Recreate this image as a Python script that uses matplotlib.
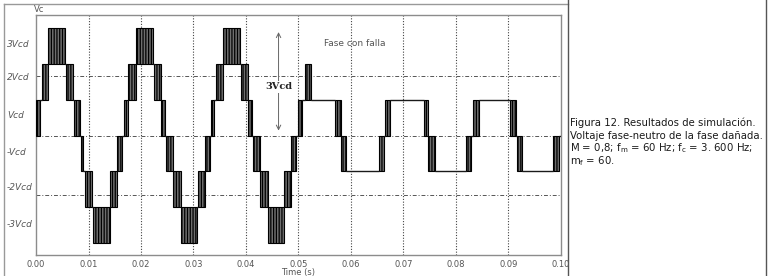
import matplotlib
matplotlib.use("Agg")
import matplotlib.pyplot as plt
from matplotlib.lines import Line2D

# ---------------- data ----------------
# switching bands: start time, end time, lower level, upper level (in Vcd)
band_start = [0.0000, 0.0011, 0.0023, 0.0057, 0.0073, 0.0085, 0.0093, 0.0108, 0.0141, 0.0155,
              0.0168, 0.0175, 0.0190, 0.0224, 0.0238, 0.0248, 0.0261, 0.0277, 0.0309, 0.0321,
              0.0333, 0.0343, 0.0357, 0.0391, 0.0404, 0.0414, 0.0426, 0.0442, 0.0473, 0.0486,
              0.0499, 0.0513, 0.0570, 0.0581, 0.0653, 0.0665, 0.0740, 0.0747, 0.0819, 0.0833,
              0.0903, 0.0916, 0.0985]
band_end = [0.0008, 0.0023, 0.0055, 0.0071, 0.0084, 0.0090, 0.0106, 0.0141, 0.0155, 0.0163,
            0.0175, 0.0190, 0.0223, 0.0238, 0.0245, 0.0261, 0.0277, 0.0306, 0.0321, 0.0332,
            0.0340, 0.0356, 0.0388, 0.0404, 0.0412, 0.0426, 0.0442, 0.0473, 0.0486, 0.0496,
            0.0507, 0.0524, 0.0581, 0.0591, 0.0663, 0.0674, 0.0747, 0.0760, 0.0828, 0.0844,
            0.0914, 0.0926, 0.0996]
band_low = [0, 1, 2, 1, 0, -1, -2, -3, -2, -1,
            0, 1, 2, 1, 0, -1, -2, -3, -2, -1,
            0, 1, 2, 1, 0, -1, -2, -3, -2, -1,
            0, 1, 0, -1, -1, 0, 0, -1, -1, 0,
            0, -1, -1]
band_high = [1, 2, 3, 2, 1, 0, -1, -2, -1, 0,
             1, 2, 3, 2, 1, 0, -1, -2, -1, 0,
             1, 2, 3, 2, 1, 0, -1, -2, -1, 0,
             1, 2, 1, 0, 0, 1, 1, 0, 0, 1,
             1, 0, 0]
# level held after each band until the next one starts
hold_level = [1, 2, 2, 1, 0, -1, -2, -2, -1, 0,
              1, 2, 2, 1, 0, -1, -2, -2, -1, 0,
              1, 2, 2, 1, 0, -1, -2, -2, -1, 0,
              1, 1, 0, -1, 0, 1, 0, -1, 0, 1,
              0, -1, 0]

x_ticks = [0.00, 0.01, 0.02, 0.03, 0.04, 0.05, 0.06, 0.07, 0.08, 0.09, 0.10]
x_tick_labels = ["0.00", "0.01", "0.02", "0.03", "0.04", "0.05", "0.06", "0.07", "0.08", "0.09", "0.10"]
y_label_pos = [2.58, 1.64, 0.58, -0.44, -1.42, -2.47]
y_labels = ["3Vcd", "2Vcd", "Vcd", "-Vcd", "-2Vcd", "-3Vcd"]
hgrid_levels = [1.67, 0.0, -1.66]

caption = ["Figura 12. Resultados de simulación.",
           "Voltaje fase-neutro de la fase dañada.",
           r"M = 0,8; f$_{\mathrm{m}}$ = 60 Hz; f$_{\mathrm{c}}$ = 3. 600 Hz;",
           r"m$_{\mathrm{f}}$ = 60."]

# ---------------- figure ----------------
W, H = 772, 276
fig = plt.figure(figsize=(W / 100, H / 100), dpi=100)
plt.rcParams['mathtext.fontset'] = 'custom'
plt.rcParams['mathtext.rm'] = 'DejaVu Sans'
plt.rcParams['hatch.linewidth'] = 0.9

ax = fig.add_axes([36 / W, 1 - 255 / H, (561 - 36) / W, (255 - 15) / H])
ax.set_xlim(0, 0.1)
ax.set_ylim(-3.34, 3.37)

# grid
for t in x_ticks[1:-1]:
    ax.axvline(t, color='#444444', lw=0.8, ls=(0, (1, 1.5)), zorder=1)
for lv in hgrid_levels:
    ax.axhline(lv, color='#555555', lw=0.7, ls=(0, (4, 2, 1, 2)), zorder=1)

# switching bands
for s, e, lo, hi in zip(band_start, band_end, band_low, band_high):
    ax.bar(s, hi - lo, width=e - s, bottom=lo, align='edge', facecolor='#6e6e6e',
           edgecolor='black', linewidth=0.8, hatch='||||||', zorder=3)

# held levels between bands
for i in range(len(band_start)):
    t0 = band_end[i]
    t1 = band_start[i + 1] if i + 1 < len(band_start) else 0.1
    ax.plot([t0, t1], [hold_level[i], hold_level[i]], color='#1a1a1a', lw=1.0,
            solid_capstyle='butt', zorder=4)

for sp in ax.spines.values():
    sp.set_color('#8c8c8c')
    sp.set_linewidth(1.0)

ax.set_xticks(x_ticks)
ax.set_xticklabels(x_tick_labels, fontsize=6, color='#555555')
ax.tick_params(axis='x', length=0, pad=3.5)
ax.set_yticks(y_label_pos)
ax.set_yticklabels(y_labels, fontsize=6.5, color='#555555', style='italic', ha='left')
ax.tick_params(axis='y', length=0, pad=21)
ax.set_xlabel("Time (s)", fontsize=6, color='#555555')
ax.xaxis.set_label_coords(0.5, -(272 - 255) / (255 - 15))
ax.xaxis.label.set_va('center')

# annotations
fig.text(34 / W, 1 - 9 / H, "Vc", fontsize=6, color='#555555', ha='left', va='center')
ax.text(0.0608, 2.58, "Fase con falla", fontsize=6.5, color='#555555', ha='center', va='center',
        zorder=6)
ax.annotate("", xy=(0.0462, 2.97), xytext=(0.0462, 0.06),
            arrowprops=dict(arrowstyle='<->', color='#666666', lw=0.7, mutation_scale=8),
            zorder=6)
ax.text(0.0462, 1.36, "3Vcd", fontsize=7, fontweight='bold', family='DejaVu Serif',
        color='#222222', ha='center', va='center', zorder=7,
        bbox=dict(facecolor='white', edgecolor='none', pad=1.0))

# frame lines
def fline(x0, y0, x1, y1, c='#999999', lw=1.0):
    fig.add_artist(Line2D([x0 / W, x1 / W], [1 - y0 / H, 1 - y1 / H], color=c, lw=lw,
                          transform=fig.transFigure))

fline(4, 4, 567.5, 4)
fline(4, 4, 4, H)
fline(567.5, 0, 567.5, H, c='#555555')
fline(766, 0, 766, H, c='#555555')

# caption
for i, line in enumerate(caption):
    fig.text(569.5 / W, 1 - (122.5 + 13 * i) / H, line, fontsize=7.3, color='#1a1a1a',
             ha='left', va='center', family='DejaVu Sans')

fig.savefig("out.png", dpi=100)
